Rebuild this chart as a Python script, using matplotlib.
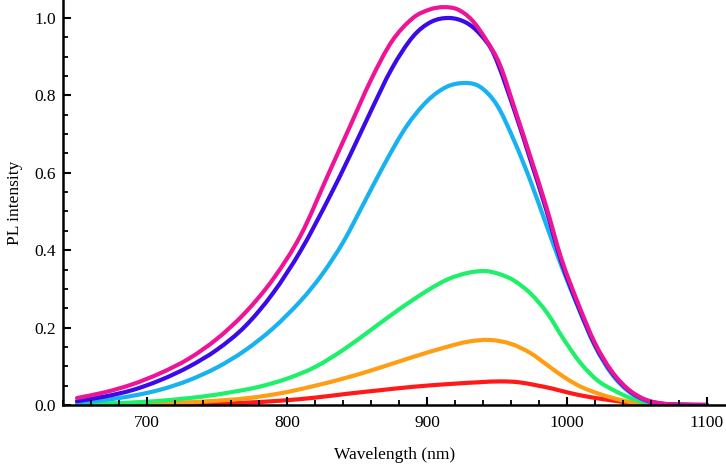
import matplotlib
matplotlib.use("Agg")
import matplotlib.pyplot as plt
import numpy as np
from matplotlib.ticker import MultipleLocator
from matplotlib.path import Path
from matplotlib.patches import PathPatch

plt.rcParams['font.family'] = ['Liberation Serif', 'DejaVu Serif']

# ---- data (wavelength nm, PL intensity) ----
mag_x = [650, 670, 690, 710, 730, 750, 770, 790, 810, 830, 845, 860, 875, 890, 902, 912,
         922, 932, 942, 952, 963, 974, 985, 996, 1008, 1020, 1032, 1044, 1056, 1068, 1080, 1100]
mag_y = [0.018, 0.033, 0.054, 0.083, 0.12, 0.171, 0.238, 0.325, 0.44, 0.6, 0.72, 0.84, 0.94,
         1.0, 1.022, 1.028, 1.022, 0.995, 0.945, 0.88, 0.762, 0.64, 0.515, 0.378, 0.262, 0.16,
         0.087, 0.04, 0.014, 0.004, 0.001, 0.0]

blu_x = [650, 670, 690, 710, 730, 750, 770, 790, 810, 830, 845, 860, 875, 890, 903, 916,
         928, 938, 948, 963, 974, 985, 996, 1008, 1020, 1032, 1044, 1056, 1068, 1080, 1100]
blu_y = [0.01, 0.022, 0.039, 0.065, 0.099, 0.143, 0.203, 0.289, 0.4, 0.535, 0.645, 0.76, 0.87,
         0.952, 0.99, 1.0, 0.988, 0.958, 0.905, 0.755, 0.632, 0.507, 0.37, 0.255, 0.155, 0.084,
         0.038, 0.013, 0.003, 0.001, 0.0]

cya_x = [650, 670, 690, 710, 730, 750, 770, 790, 810, 825, 840, 855, 870, 885, 900, 914,
         927, 938, 950, 962, 974, 986, 996, 1008, 1020, 1032, 1044, 1056, 1068, 1080, 1100]
cya_y = [0.006, 0.013, 0.024, 0.04, 0.064, 0.097, 0.141, 0.198, 0.27, 0.337, 0.42, 0.522, 0.625,
         0.718, 0.785, 0.822, 0.832, 0.822, 0.775, 0.685, 0.578, 0.458, 0.36, 0.252, 0.152,
         0.08, 0.035, 0.011, 0.003, 0.001, 0.0]

grn_x = [650, 680, 710, 740, 760, 780, 800, 820, 840, 860, 880, 900, 915, 930, 942, 952,
         962, 974, 986, 998, 1010, 1022, 1034, 1046, 1058, 1070, 1100]
grn_y = [0.002, 0.005, 0.011, 0.022, 0.033, 0.047, 0.068, 0.098, 0.142, 0.194, 0.247, 0.295,
         0.325, 0.342, 0.346, 0.338, 0.322, 0.288, 0.237, 0.168, 0.107, 0.063, 0.037, 0.017,
         0.005, 0.001, 0.0]

org_x = [650, 700, 740, 770, 795, 818, 843, 866, 890, 914, 930, 945, 960, 974, 986, 998,
         1010, 1022, 1034, 1046, 1058, 1075, 1100]
org_y = [0.0, 0.003, 0.009, 0.017, 0.03, 0.048, 0.071, 0.096, 0.124, 0.15, 0.164, 0.168,
         0.158, 0.134, 0.103, 0.072, 0.047, 0.03, 0.017, 0.007, 0.002, 0.0, 0.0]

red_x = [650, 700, 740, 770, 795, 820, 843, 866, 890, 915, 938, 952, 965, 978, 990, 1002,
         1014, 1026, 1038, 1050, 1062, 1080, 1100]
red_y = [0.0, 0.0, 0.002, 0.006, 0.011, 0.019, 0.029, 0.038, 0.047, 0.054, 0.059, 0.061, 0.059,
         0.051, 0.042, 0.031, 0.022, 0.015, 0.009, 0.004, 0.001, 0.0, 0.0]

series = [
    (red_x, red_y, '#ff1a1a'),
    (org_x, org_y, '#ff9e14'),
    (grn_x, grn_y, '#1ef06a'),
    (cya_x, cya_y, '#17b2ef'),
    (blu_x, blu_y, '#3a0ae8'),
    (mag_x, mag_y, '#ee1497'),
]


def smooth_path(xs, ys):
    """Cubic Bezier path passing through the read points (Catmull-Rom control points)."""
    p = np.column_stack([xs, ys]).astype(float)
    n = len(p)
    verts = [p[0]]
    codes = [Path.MOVETO]
    for i in range(n - 1):
        p0 = p[i - 1] if i > 0 else p[i]
        p1 = p[i]
        p2 = p[i + 1]
        p3 = p[i + 2] if i + 2 < n else p[i + 1]
        d1 = p2[0] - p1[0]
        t1 = (p2 - p0) / max(p2[0] - p0[0], 1e-9) * d1 / 3.0
        t2 = (p3 - p1) / max(p3[0] - p1[0], 1e-9) * d1 / 3.0
        verts += [p1 + t1, p2 - t2, p2]
        codes += [Path.CURVE4, Path.CURVE4, Path.CURVE4]
    return Path(verts, codes)


fig = plt.figure(figsize=(7.26, 4.68), dpi=100)
ax = fig.add_axes([63 / 726, 63 / 468, 1 - 63 / 726, 1 - 63 / 468])

for xs, ys, c in series:
    patch = PathPatch(smooth_path(xs, ys), facecolor='none', edgecolor=c, lw=3.0,
                      capstyle='round', joinstyle='round')
    ax.add_patch(patch)

ax.set_xlim(640, 1113.6)
ax.set_ylim(0, 1.0465)

ax.xaxis.set_minor_locator(MultipleLocator(20))
ax.yaxis.set_minor_locator(MultipleLocator(0.05))
ax.set_xticks([700, 800, 900, 1000, 1100])
ax.set_xticklabels(['700', '800', '900', '1000', '1100'])
ax.set_yticks([0.0, 0.2, 0.4, 0.6, 0.8, 1.0])
ax.set_yticklabels(['0.0', '0.2', '0.4', '0.6', '0.8', '1.0'])

for s in ['top', 'right']:
    ax.spines[s].set_visible(False)
for s in ['left', 'bottom']:
    ax.spines[s].set_linewidth(1.8)
    ax.spines[s].set_zorder(5)

ax.tick_params(which='major', direction='in', length=6, width=1.5, labelsize=12.5)
ax.tick_params(which='minor', direction='in', length=3.5, width=1.3)
ax.tick_params(axis='x', which='major', pad=7)
ax.tick_params(axis='y', which='major', pad=5)

ax.set_xlabel('Wavelength (nm)', fontsize=12.5, labelpad=12)
ax.set_ylabel('PL intensity', fontsize=12.5, labelpad=8)

fig.savefig('out.png', dpi=100)
